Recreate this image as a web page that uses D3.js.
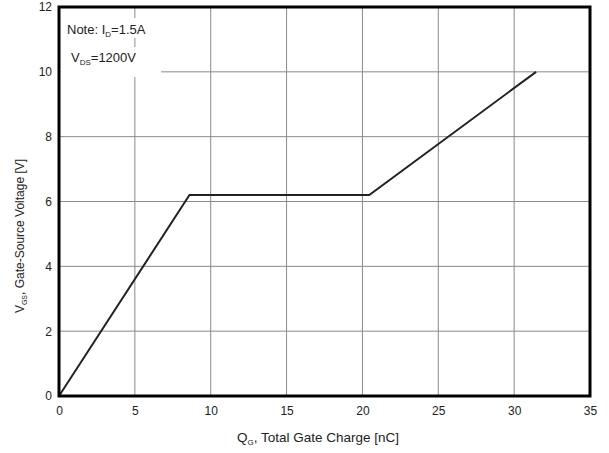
<!DOCTYPE html>
<html>
<head>
<meta charset="utf-8">
<script src="https://cdn.jsdelivr.net/npm/d3@7"></script>
<style>
body{margin:0;background:#fff}
text{font-family:"Liberation Sans",Arial,sans-serif;fill:#222}
</style>
</head>
<body>
<svg width="609" height="453"></svg>
<script>
// gate charge curve
const qg=[0,8.6,20.45,31.45]
const vgs=[0,6.2,6.2,10]
const xTicks=[0,5,10,15,20,25,30,35]
const yTicks=[0,2,4,6,8,10,12]

const svg=d3.select("svg")
const m={l:59,r:19,t:7,b:57}
const W=609,H=453
const x=d3.scaleLinear().domain([0,35]).range([m.l,W-m.r])
const y=d3.scaleLinear().domain([0,12]).range([H-m.b,m.t])

// grid
svg.append("g").selectAll("line").data(xTicks.slice(1,-1)).join("line")
 .attr("x1",d=>x(d)).attr("x2",d=>x(d)).attr("y1",y(0)).attr("y2",y(12))
 .attr("stroke","#8a8a8a").attr("stroke-width",1)
svg.append("g").selectAll("line").data(yTicks.slice(1,-1)).join("line")
 .attr("y1",d=>y(d)).attr("y2",d=>y(d)).attr("x1",x(0)).attr("x2",x(35))
 .attr("stroke","#8a8a8a").attr("stroke-width",1)

// note box
const note=svg.append("g")
const n1=note.append("text").attr("x",67).attr("y",34).attr("font-size",13)
n1.append("tspan").text("Note: I")
n1.append("tspan").text("D").attr("font-size",8).attr("dy",3)
n1.append("tspan").text("=1.5A").attr("dy",-3)
const n2=note.append("text").attr("x",71).attr("y",62).attr("font-size",13)
n2.append("tspan").text("V")
n2.append("tspan").text("DS").attr("font-size",8).attr("dy",3)
n2.append("tspan").text("=1200V").attr("dy",-3)
note.insert("rect","text").attr("x",61).attr("y",18).attr("width",96).attr("height",20).attr("fill","#fff")
note.insert("rect","text").attr("x",61).attr("y",47).attr("width",100).attr("height",30).attr("fill","#fff")

// curve
const line=d3.line().x((d,i)=>x(qg[i])).y(d=>y(d))
svg.append("path").attr("d",line(vgs)).attr("fill","none")
 .attr("stroke","#222").attr("stroke-width",2)

// frame
svg.append("rect").attr("x",x(0)).attr("y",y(12)).attr("width",x(35)-x(0)).attr("height",y(0)-y(12))
 .attr("fill","none").attr("stroke","#000").attr("stroke-width",3)

// tick labels
const xa=d3.axisBottom(x).tickValues(xTicks).tickSize(0).tickPadding(10)
svg.append("g").attr("transform",`translate(0,${y(0)})`).call(xa)
 .call(g=>g.select(".domain").remove())
 .selectAll("text").attr("font-size",12).attr("font-family","Liberation Sans, Arial, sans-serif").attr("fill","#222")
const ya=d3.axisLeft(y).tickValues(yTicks).tickSize(0).tickPadding(7)
svg.append("g").attr("transform",`translate(${x(0)},0)`).call(ya)
 .call(g=>g.select(".domain").remove())
 .selectAll("text").attr("font-size",12).attr("font-family","Liberation Sans, Arial, sans-serif").attr("fill","#222")

// axis titles
const xt=svg.append("text").attr("x",318).attr("y",442).attr("text-anchor","middle").attr("font-size",13.5)
xt.append("tspan").text("Q")
xt.append("tspan").text("G").attr("font-size",8).attr("dy",3)
xt.append("tspan").text(", Total Gate Charge [nC]").attr("dy",-3)
const yt=svg.append("text").attr("transform","translate(24,236) rotate(-90)").attr("text-anchor","middle").attr("font-size",12)
yt.append("tspan").text("V")
yt.append("tspan").text("GS").attr("font-size",7).attr("dy",3)
yt.append("tspan").text(", Gate-Source Voltage [V]").attr("dy",-3)
</script>
</body>
</html>
